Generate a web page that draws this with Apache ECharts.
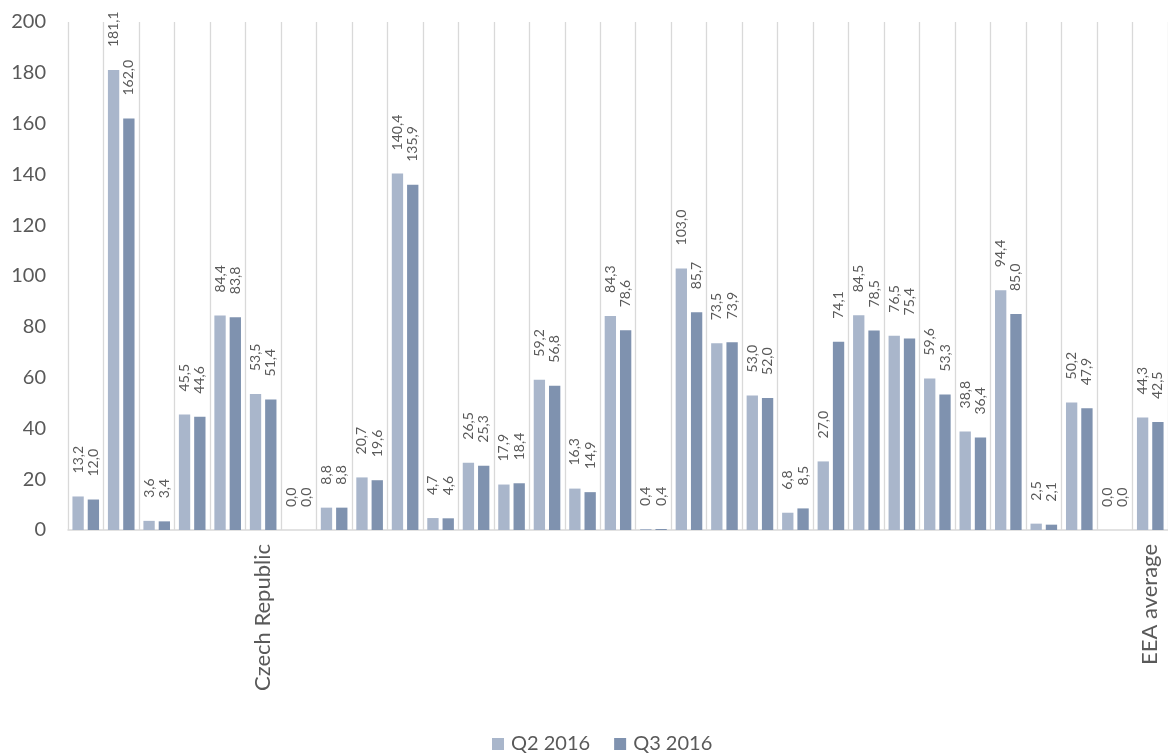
<!DOCTYPE html>
<html>
<head>
<meta charset="utf-8">
<script src="https://cdn.jsdelivr.net/npm/echarts@6/dist/echarts.min.js"></script>
<style>
html,body{margin:0;padding:0;background:#fff;}
#chart{width:1168px;height:754px;}
</style>
</head>
<body>
<div id="chart"></div>
<script>
const categories = ['', '', '', '', '', 'Czech Republic', '', '', '', '', '', '', '', '', '', '', '', '', '', '', '', '', '', '', '', '', '', '', '', '', 'EEA average'];
const q2_2016 = [13.2, 181.1, 3.6, 45.5, 84.4, 53.5, 0.0, 8.8, 20.7, 140.4, 4.7, 26.5, 17.9, 59.2, 16.3, 84.3, 0.4, 103.0, 73.5, 53.0, 6.8, 27.0, 84.5, 76.5, 59.6, 38.8, 94.4, 2.5, 50.2, 0.0, 44.3];
const q3_2016 = [12.0, 162.0, 3.4, 44.6, 83.8, 51.4, 0.0, 8.8, 19.6, 135.9, 4.6, 25.3, 18.4, 56.8, 14.9, 78.6, 0.4, 85.7, 73.9, 52.0, 8.5, 74.1, 78.5, 75.4, 53.3, 36.4, 85.0, 2.1, 47.9, 0.0, 42.5];
const seriesNames = ['Q2 2016', 'Q3 2016'];
const yTicks = {min: 0, max: 200, interval: 20};

const FONT = 'Lato';
const TXT = '#595959';
const fmt = p => Number(p.value).toFixed(1).replace('.', ',');
const labelCfg = {
  show: true, position: 'top', distance: 23, rotate: 90,
  align: 'left', verticalAlign: 'middle',
  formatter: fmt, color: TXT, fontFamily: FONT, fontSize: 14
};

const chart = echarts.init(document.getElementById('chart'), null, {renderer: 'canvas'});
chart.setOption({
  animation: false,
  textStyle: {fontFamily: FONT},
  grid: {left: 68, top: 22, width: 1107, height: 508, containLabel: false},
  legend: {
    data: seriesNames, top: 729, left: 487,
    itemWidth: 12, itemHeight: 12, itemGap: 24, icon: 'rect',
    textStyle: {color: TXT, fontFamily: FONT, fontSize: 20, padding: [0, 0, 0, 2]}
  },
  xAxis: {
    type: 'category', data: categories,
    axisLine: {show: true, lineStyle: {color: '#d9d9d9', width: 1.5}},
    axisTick: {show: false},
    splitLine: {show: true, lineStyle: {color: '#d9d9d9', width: 1.3}},
    axisLabel: {interval: 0, rotate: 90, margin: 14, color: TXT, fontFamily: FONT, fontSize: 22}
  },
  yAxis: {
    type: 'value', min: yTicks.min, max: yTicks.max, interval: yTicks.interval,
    axisLine: {show: false}, axisTick: {show: false}, splitLine: {show: false},
    axisLabel: {margin: 22, color: TXT, fontFamily: FONT, fontSize: 20}
  },
  series: [
    {name: seriesNames[0], type: 'bar', data: q2_2016, barCategoryGap: '25%', barGap: '35%',
     itemStyle: {color: '#A9B6CB'}, label: labelCfg},
    {name: seriesNames[1], type: 'bar', data: q3_2016, barCategoryGap: '25%', barGap: '35%',
     itemStyle: {color: '#7F92AF'}, label: labelCfg}
  ]
});
</script>
</body>
</html>
